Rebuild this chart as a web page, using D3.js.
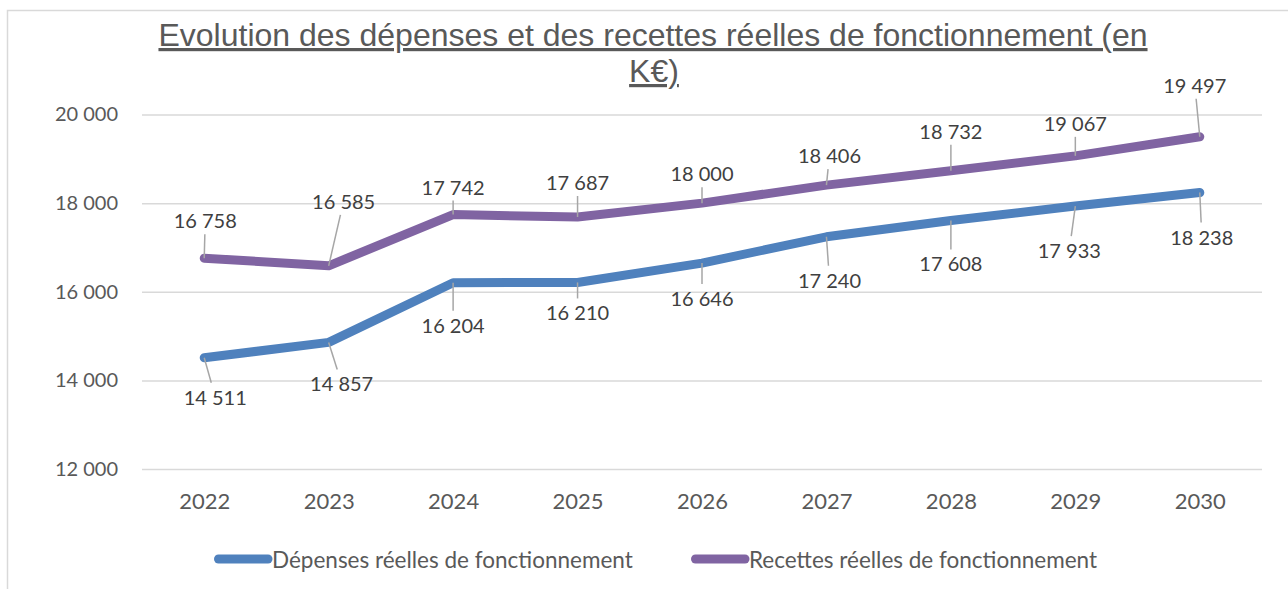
<!DOCTYPE html>
<html>
<head>
<meta charset="utf-8">
<script src="https://cdn.jsdelivr.net/npm/d3@7"></script>
<style>
  body { margin: 0; background: #fff; }
  text { font-family: Lato, "Noto Sans", sans-serif; }
</style>
</head>
<body>
<div id="chart"></div>
<script>
var years = ['2022', '2023', '2024', '2025', '2026', '2027', '2028', '2029', '2030'];
var depenses = [14511, 14857, 16204, 16210, 16646, 17240, 17608, 17933, 18238];
var recettes = [16758, 16585, 17742, 17687, 18000, 18406, 18732, 19067, 19497];
var yTicks = [12000, 14000, 16000, 18000, 20000];
var seriesNames = ['Dépenses réelles de fonctionnement', 'Recettes réelles de fonctionnement'];

// label offsets (from the point) as placed in the original
var depLabelPos = [[11, 39], [13, 41], [0, 42], [0, 30], [0, 35], [3, 43], [0, 43], [-6, 44], [2, 44]];
var recLabelPos = [[1, -38], [15, -65], [0, -28], [0, -35], [0, -30], [3, -30], [0, -40], [0, -33], [-5, -52]];

var W = 1288, H = 589;
var margin = {left: 142, right: 1262, top: 114.5, bottom: 469};

var svg = d3.select('#chart').append('svg')
    .attr('width', W)
    .attr('height', H);

svg.append('rect')
    .attr('x', 7.5).attr('y', 10.5)
    .attr('width', W).attr('height', H)
    .attr('fill', 'none')
    .attr('stroke', '#d9d9d9')
    .attr('stroke-width', 1.5);

var x = d3.scalePoint().domain(years).range([margin.left, margin.right]).padding(0.5);
var y = d3.scaleLinear().domain([12000, 20000]).range([margin.bottom, margin.top]);
var fmt = function(v){ return d3.format(',')(v).replace(/,/g, ' '); };

// title
var title = svg.append('g').attr('fill', '#595959')
    .style('font-size', '32px')
    .style('text-decoration', 'underline');
title.append('text').attr('x', 653).attr('y', 46).attr('text-anchor', 'middle')
    .style('font-family', '"Liberation Sans", Arial, sans-serif')
    .text('Evolution des dépenses et des recettes réelles de fonctionnement (en');
title.append('text').attr('x', 654).attr('y', 82).attr('text-anchor', 'middle')
    .style('font-family', '"Liberation Sans", Arial, sans-serif')
    .text('K€)');

// grid + y axis
var yAxis = svg.append('g')
    .attr('transform', 'translate(' + margin.left + ',0)')
    .call(d3.axisLeft(y).tickValues(yTicks).tickSize(-(margin.right - margin.left)).tickFormat(fmt).tickPadding(24));
yAxis.select('.domain').remove();
yAxis.selectAll('.tick line').attr('stroke', '#d9d9d9').attr('stroke-width', 1.5);
yAxis.selectAll('.tick text').attr('fill', '#595959').style('font-size', '20px');

var xAxis = svg.append('g')
    .attr('transform', 'translate(0,' + margin.bottom + ')')
    .call(d3.axisBottom(x).tickSize(0).tickPadding(24));
xAxis.select('.domain').remove();
xAxis.selectAll('.tick text').attr('fill', '#595959').style('font-size', '22px');

var line = d3.line()
    .x(function(d, i){ return x(years[i]); })
    .y(function(d){ return y(d); });

var series = [
    {values: depenses, color: '#4f81bd', pos: depLabelPos},
    {values: recettes, color: '#8064a2', pos: recLabelPos}
];

series.forEach(function(s){
    svg.append('path')
        .datum(s.values)
        .attr('d', line)
        .attr('fill', 'none')
        .attr('stroke', s.color)
        .attr('stroke-width', 9)
        .attr('stroke-linecap', 'round')
        .attr('stroke-linejoin', 'round');
});

// data labels with leader lines
series.forEach(function(s){
    var g = svg.append('g');
    s.values.forEach(function(v, i){
        var px = x(years[i]), py = y(v);
        var dx = s.pos[i][0], dy = s.pos[i][1];
        var hw = 34, hh = 14;
        // clip the leader at the label box
        var t = Math.min(Math.abs(dx) > 0 ? hw / Math.abs(dx) : Infinity, hh / Math.abs(dy));
        var k = 1 - t;
        if (k > 0.25) {
            g.append('line')
                .attr('x1', px).attr('y1', py)
                .attr('x2', px + dx * k).attr('y2', py + dy * k)
                .attr('stroke', '#a6a6a6')
                .attr('stroke-width', 1.5);
        }
        g.append('text')
            .attr('x', px + dx).attr('y', py + dy)
            .attr('text-anchor', 'middle')
            .attr('dominant-baseline', 'central')
            .attr('fill', '#404040')
            .style('font-size', '20px')
            .text(fmt(v));
    });
});

// legend
var legendX = [214, 691];
seriesNames.forEach(function(name, i){
    var lg = svg.append('g').attr('transform', 'translate(' + legendX[i] + ',559)');
    lg.append('line')
        .attr('x1', 4.5).attr('x2', 54)
        .attr('stroke', series[i].color)
        .attr('stroke-width', 9)
        .attr('stroke-linecap', 'round');
    lg.append('text')
        .attr('x', 58)
        .attr('dominant-baseline', 'central')
        .attr('fill', '#595959')
        .style('font-size', '22.5px')
        .text(name);
});
</script>
</body>
</html>
